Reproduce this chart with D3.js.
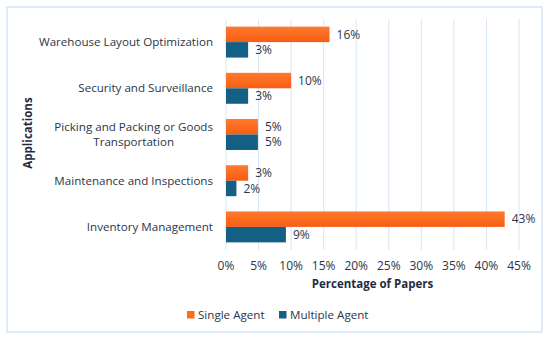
<!DOCTYPE html>
<html>
<head>
<meta charset="utf-8">
<script src="https://cdn.jsdelivr.net/npm/d3@7"></script>
<style>
  body { margin: 0; background: #fff; }
  text { font-family: "Open Sans", sans-serif; fill: #2b3648; }
</style>
</head>
<body>
<script>
var width = 550,
    height = 339;

// data
var categories = [
  "Warehouse Layout Optimization",
  "Security and Surveillance",
  "Picking and Packing or Goods Transportation",
  "Maintenance and Inspections",
  "Inventory Management"
];
var singleAgent = [15.9, 10.0, 4.9, 3.4, 42.8];
var multipleAgent = [3.4, 3.4, 4.9, 1.6, 9.2];
var seriesNames = ["Single Agent", "Multiple Agent"];
var xTicks = [0, 5, 10, 15, 20, 25, 30, 35, 40, 45];

var colors = ["#ff6a1c", "#145f84"];

const svg = d3.select("body")
    .append("svg")
    .attr("width", width)
    .attr("height", height);

var defs = svg.append("defs");
var grad = defs.append("linearGradient")
    .attr("id", "orangeGrad")
    .attr("x1", 0).attr("y1", 0).attr("x2", 0).attr("y2", 1);
grad.append("stop").attr("offset", "0%").attr("stop-color", "#ff7a2e");
grad.append("stop").attr("offset", "100%").attr("stop-color", "#f85d12");

// outer frame
svg.append("rect")
    .attr("x", 7).attr("y", 7)
    .attr("width", 535).attr("height", 325)
    .attr("fill", "none")
    .attr("stroke", "#d5e5f3")
    .attr("stroke-width", 1.5);

var margin = {left: 226, right: 31, top: 19, bottom: 89};

var x = d3.scaleLinear()
    .domain([0, 45])
    .range([margin.left, width - margin.right]);

var y = d3.scaleBand()
    .domain(categories)
    .range([margin.top, height - margin.bottom])
    .paddingInner(0.33)
    .paddingOuter(0.165);

var sub = d3.scaleBand()
    .domain(seriesNames)
    .range([0, y.bandwidth()]);

// gridlines
svg.append("g")
    .selectAll("line")
    .data(xTicks)
    .enter().append("line")
    .attr("x1", d => x(d)).attr("x2", d => x(d))
    .attr("y1", margin.top).attr("y2", height - margin.bottom)
    .attr("stroke", "#d6e6f5")
    .attr("stroke-width", 1);

// x tick labels
svg.append("g")
    .selectAll("text")
    .data(xTicks)
    .enter().append("text")
    .attr("x", d => x(d))
    .attr("y", 270)
    .attr("text-anchor", "middle")
    .style("font-size", "12px")
    .text(d => d + "%");

var rows = categories.map(function (c, i) {
    return {name: c, values: [singleAgent[i], multipleAgent[i]]};
});

var fmt = d3.format(".0f");

var groups = svg.append("g")
    .selectAll("g")
    .data(rows)
    .enter().append("g")
    .attr("transform", d => "translate(0," + y(d.name) + ")");

groups.selectAll("rect")
    .data(d => d.values.map((v, i) => ({key: seriesNames[i], value: v, i: i})))
    .enter().append("rect")
    .attr("x", x(0))
    .attr("y", d => sub(d.key))
    .attr("width", d => x(d.value) - x(0))
    .attr("height", sub.bandwidth())
    .attr("fill", d => d.i === 0 ? "url(#orangeGrad)" : colors[1]);

groups.selectAll("text.val")
    .data(d => d.values.map((v, i) => ({key: seriesNames[i], value: v})))
    .enter().append("text")
    .attr("class", "val")
    .attr("x", d => x(d.value) + 7)
    .attr("y", d => sub(d.key) + sub.bandwidth() / 2)
    .attr("dy", "0.35em")
    .style("font-size", "12px")
    .text(d => fmt(d.value) + "%");

// category labels (wrap the long one)
var labelRight = 213;
groups.each(function (d) {
    var g = d3.select(this);
    var cy = y.bandwidth() / 2;
    var lines = d.name.length > 32 ? ["Picking and Packing or Goods", "Transportation"] : [d.name];
    if (lines.length === 1) {
        g.append("text")
            .attr("x", labelRight)
            .attr("y", cy)
            .attr("dy", "0.35em")
            .attr("text-anchor", "end")
            .style("font-size", "11.6px")
            .text(d.name);
    } else {
        var t = g.append("text")
            .attr("text-anchor", "middle")
            .style("font-size", "11.6px");
        var spans = lines.map(function (l, k) {
            return t.append("tspan")
                .attr("y", cy + (k - (lines.length - 1) / 2) * 15.3)
                .attr("dy", "0.35em")
                .text(l);
        });
        var w = d3.max(spans, s => s.node().getComputedTextLength());
        spans.forEach(s => s.attr("x", labelRight - w / 2));
    }
});

// axis titles
svg.append("text")
    .attr("transform", "translate(32,133) rotate(-90)")
    .attr("text-anchor", "middle")
    .style("font-size", "11.5px")
    .style("font-weight", "bold")
    .style("fill", "#1f2d44")
    .text("Applications");

svg.append("text")
    .attr("x", (x(0) + x(45)) / 2)
    .attr("y", 288)
    .attr("text-anchor", "middle")
    .style("font-size", "11.5px")
    .style("font-weight", "bold")
    .style("fill", "#1f2d44")
    .text("Percentage of Papers");

// legend
var legend = svg.append("g")
    .selectAll("g")
    .data(seriesNames)
    .enter().append("g")
    .attr("transform", (d, i) => "translate(" + [187, 279][i] + ",315)");

legend.append("rect")
    .attr("x", 0).attr("y", -4)
    .attr("width", 7.5).attr("height", 7.5)
    .attr("fill", (d, i) => colors[i]);

legend.append("text")
    .attr("x", 11)
    .attr("y", 0)
    .attr("dy", "0.35em")
    .style("font-size", "11.6px")
    .text(d => d);
</script>
</body>
</html>
